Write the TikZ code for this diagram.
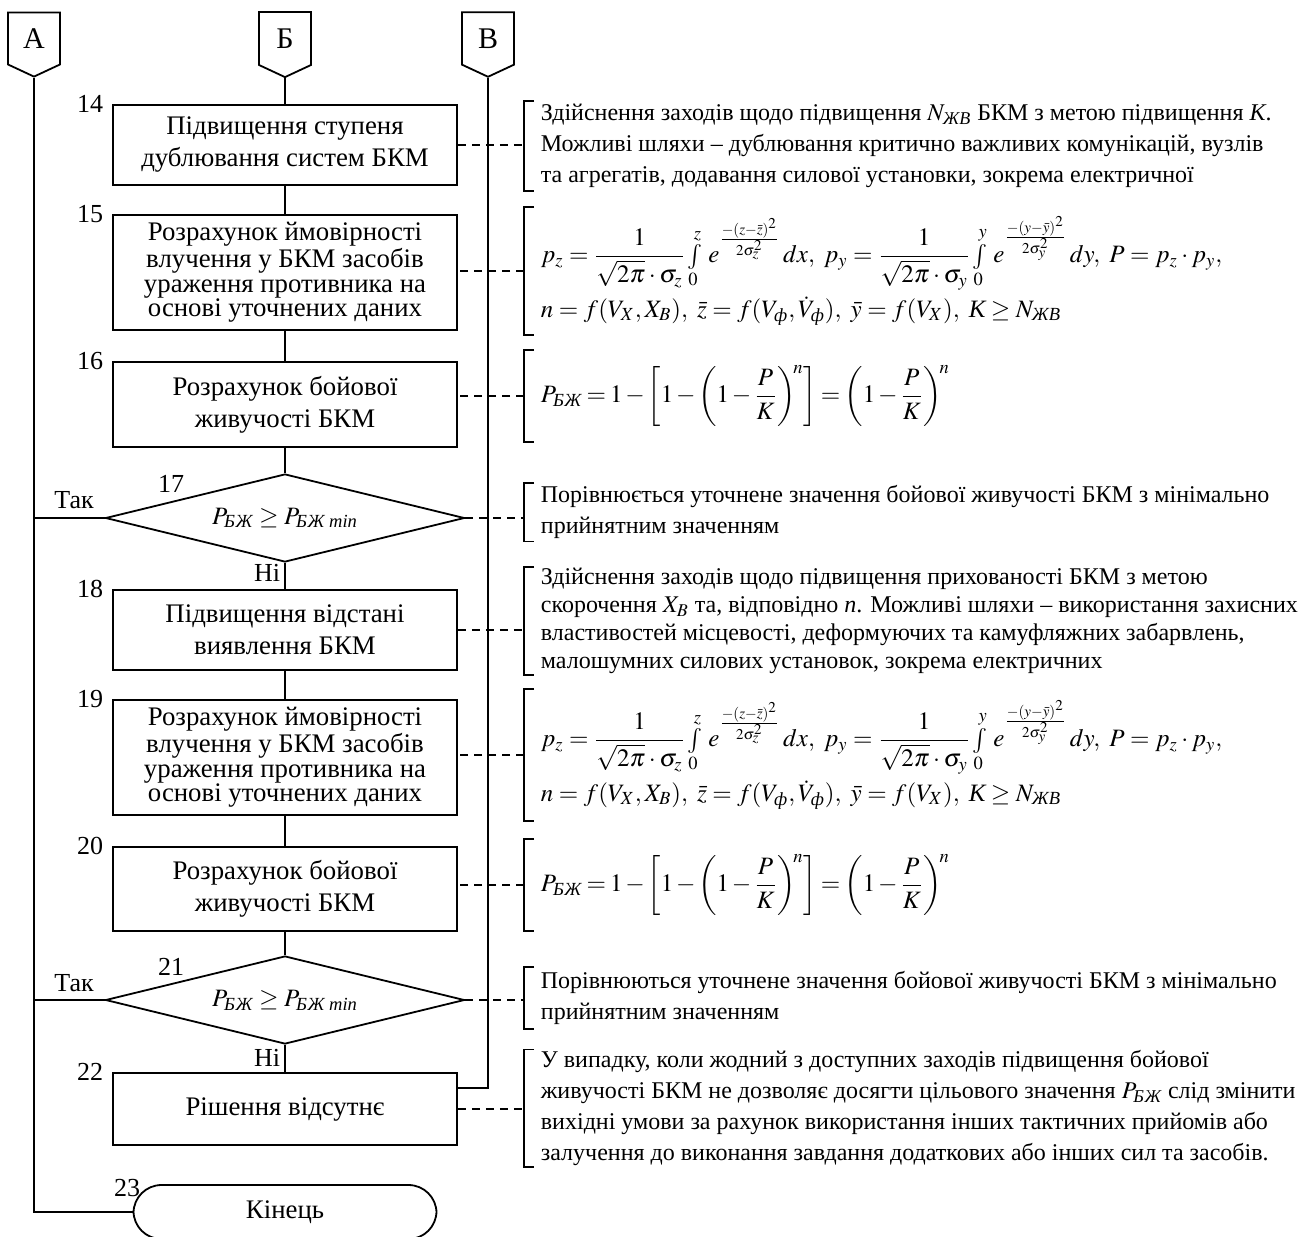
\documentclass[tikz,border=0pt]{standalone}
\usepackage{amsmath}
\usepackage{mathptmx}
\usepackage{fontspec}
\setmainfont{Liberation Serif}
\usetikzlibrary{positioning}
\usetikzlibrary{shapes.geometric, shapes.symbols}

\begin{document}
\begin{tikzpicture}[x=0.5pt, y=-0.5pt, line width=0.9pt,
		block/.style={
			draw,
			minimum width=172pt,
			align=center,
			inner sep=1pt,
			font=\fontsize{13.4}{16}\selectfont
		},
		dense/.style={font=\fontsize{13.4}{12.2}\selectfont},
		decision/.style={draw, diamond, aspect=4, minimum width=179.5pt, minimum height=44pt, inner sep=0pt, font=\fontsize{12.5}{15}\selectfont},
		offpage/.style={draw, signal, signal to=south, signal pointer angle=130, minimum width=26pt, minimum height=28.5pt, inner sep=0pt, font=\fontsize{15}{17}\selectfont},
		note/.style={anchor=west, align=left, inner xsep=8pt, inner ysep=0pt, font=\fontsize{12}{15.5}\selectfont},
		formula/.style={note, font=\fontsize{12.5}{15}\selectfont},
		num/.style={inner sep=0pt, font=\fontsize{13}{15}\selectfont},
		link/.style={dash pattern=on 4pt off 3pt, line width=0.6pt}]
		\useasboundingbox (0,0) rectangle (1309,1236);
		
		\node[offpage] (cA) at (34,38.5) {А};
		\node[offpage] (cB) at (285,38.5) {Б};
		\node[offpage] (cV) at (488,38.5) {В};
		
		\node[block, minimum height=40pt] (b14) at (285,145) {Підвищення ступеня\\дублювання систем БКМ};
		\node[block, dense, minimum height=57.5pt] (b15) at (285,272.5) {Розрахунок ймовірності\\влучення у БКМ засобів\\ураження противника на\\основі уточнених даних};
		\node[block, minimum height=42.5pt] (b16) at (285,404.5) {Розрахунок бойової\\живучості БКМ};
		\node[decision] (d17) at (285,518) {$P_{\textit{БЖ}}\geq P_{\textit{БЖ min}}$};
		\node[block, minimum height=40pt] (b18) at (285,630) {Підвищення відстані\\виявлення БКМ};
		\node[block, dense, minimum height=57.5pt] (b19) at (285,757.5) {Розрахунок ймовірності\\влучення у БКМ засобів\\ураження противника на\\основі уточнених даних};
		\node[block, minimum height=42pt] (b20) at (285,889) {Розрахунок бойової\\живучості БКМ};
		\node[decision] (d21) at (285,1000) {$P_{\textit{БЖ}}\geq P_{\textit{БЖ min}}$};
		\node[block, minimum height=36pt] (b22) at (285,1109) {Рішення відсутнє};
		\node[draw, rounded corners=14pt, minimum width=151.5pt, minimum height=27pt, font=\fontsize{13.4}{15}\selectfont] (t23) at (285,1212) {Кінець};
		
		\node[num, anchor=east] (n14) at ([xshift=-4pt]b14.north west) {14};
		\node[num, anchor=east] (n15) at ([xshift=-4pt]b15.north west) {15};
		\node[num, anchor=east] (n16) at ([xshift=-4pt]b16.north west) {16};
		\node[num, anchor=east] (n17) at (185,484) {17};
		\node[num, anchor=east] (n18) at ([xshift=-4pt]b18.north west) {18};
		\node[num, anchor=east] (n19) at ([xshift=-4pt]b19.north west) {19};
		\node[num, anchor=east] (n20) at ([xshift=-4pt]b20.north west) {20};
		\node[num, anchor=east] (n21) at (185,967) {21};
		\node[num, anchor=east] (n22) at ([xshift=-4pt]b22.north west) {22};
		\node[num, anchor=east] (n23) at (141,1188) {23};
		
		\node[num] (yes17) at (74,500) {Так};
		\node[num] (yes21) at (74,983) {Так};
		\node[num, anchor=east] (no17) at (281,573) {Ні};
		\node[num, anchor=east] (no21) at (281,1058) {Ні};
		
		\node[note, minimum height=44pt] (a14) at (524,146) {Здійснення заходів щодо підвищення $N_{\textit{ЖВ}}$ БКМ з метою підвищення \textit{К}.\\Можливі шляхи -- дублювання критично важливих комунікацій, вузлів\\та агрегатів, додавання силової установки, зокрема електричної};
		\node[formula, minimum height=63pt] (a15) at (524,271) {$p_z=\dfrac{1}{\sqrt{2\pi}\cdot\sigma_z}\int\limits_0^z\, e^{\frac{-(z-\bar z)^2}{2\sigma_z^2}}\,dx,\ p_y=\dfrac{1}{\sqrt{2\pi}\cdot\sigma_y}\int\limits_0^y\, e^{\frac{-(y-\bar y)^2}{2\sigma_y^2}}\,dy,\ P=p_z\cdot p_y,$\\[2pt]$n=f(V_X,X_B),\ \bar z=f(V_{\textit{ф}},\dot V_{\textit{ф}}),\ \bar y=f(V_X),\ \textit{К}\geq N_{\textit{ЖВ}}$};
		\node[formula, minimum height=45pt] (a16) at (524,396) {\medmuskip=2mu\thickmuskip=3mu$P_{\textit{БЖ}}=1-\left[1-\left(1-\dfrac{P}{K}\right)^{\!n}\right]=\left(1-\dfrac{P}{K}\right)^{\!n}$};
		\node[note, minimum height=28.5pt] (a17) at (524,512) {Порівнюється уточнене значення бойової живучості БКМ з мінімально\\прийнятним значенням};
		\node[note, minimum height=53pt, font=\fontsize{12}{14}\selectfont] (a18) at (524,621) {Здійснення заходів щодо підвищення прихованості БКМ з метою\\скорочення $X_B$ та, відповідно \textit{n}. Можливі шляхи -- використання захисних\\властивостей місцевості, деформуючих та камуфляжних забарвлень,\\малошумних силових установок, зокрема електричних};
		\node[formula, minimum height=65pt] (a19) at (524,755) {$p_z=\dfrac{1}{\sqrt{2\pi}\cdot\sigma_z}\int\limits_0^z\, e^{\frac{-(z-\bar z)^2}{2\sigma_z^2}}\,dx,\ p_y=\dfrac{1}{\sqrt{2\pi}\cdot\sigma_y}\int\limits_0^y\, e^{\frac{-(y-\bar y)^2}{2\sigma_y^2}}\,dy,\ P=p_z\cdot p_y,$\\[2pt]$n=f(V_X,X_B),\ \bar z=f(V_{\textit{ф}},\dot V_{\textit{ф}}),\ \bar y=f(V_X),\ \textit{К}\geq N_{\textit{ЖВ}}$};
		\node[formula, minimum height=45pt] (a20) at (524,885) {\medmuskip=2mu\thickmuskip=3mu$P_{\textit{БЖ}}=1-\left[1-\left(1-\dfrac{P}{K}\right)^{\!n}\right]=\left(1-\dfrac{P}{K}\right)^{\!n}$};
		\node[note, minimum height=30pt] (a21) at (524,998) {Порівнюються уточнене значення бойової живучості БКМ з мінімально\\прийнятним значенням};
		\node[note, minimum height=55pt] (a22) at (524,1108) {У випадку, коли жодний з доступних заходів підвищення бойової\\живучості БКМ не дозволяє досягти цільового значення $P_{\textit{БЖ}}$ слід змінити\\вихідні умови за рахунок використання інших тактичних прийомів або\\залучення до виконання завдання додаткових або інших сил та засобів.};
		
		% main line
		\draw (cB.south) -- (b14.north);
		\draw (b14.south) -- (b15.north);
		\draw (b15.south) -- (b16.north);
		\draw (b16.south) -- (d17.north);
		\draw (d17.south) -- (b18.north);
		\draw (b18.south) -- (b19.north);
		\draw (b19.south) -- (b20.north);
		\draw (b20.south) -- (d21.north);
		\draw (d21.south) -- (b22.north);
		
		% side lines
		\draw (cA.south) |- (t23.west);
		\draw (d17.west) -- (d17.west -| cA.south);
		\draw (d21.west) -- (d21.west -| cA.south);
		\draw (cV.south) |- ([yshift=10.5pt]b22.east);
		
		% comments
		\draw[link] (b14.east) -- (b14.east -| a14.west);
		\draw[link] (a15.west) -- (a15.west -| b15.east);
		\draw[link] (a16.west) -- (a16.west -| b16.east);
		\draw[link] (d17.east) -- (d17.east -| a17.west);
		\draw[link] (b18.east) -- (b18.east -| a18.west);
		\draw[link] (a19.west) -- (a19.west -| b19.east);
		\draw[link] (a20.west) -- (a20.west -| b20.east);
		\draw[link] (d21.east) -- (d21.east -| a21.west);
		\draw[link] (b22.east) -- (b22.east -| a22.west);
		\foreach \a in {a14,a15,a16,a17,a18,a19,a20,a21,a22}
			\draw ([xshift=5pt]\a.north west) -- (\a.north west) -- (\a.south west) -- ([xshift=5pt]\a.south west);
	\end{tikzpicture}
\end{document}
